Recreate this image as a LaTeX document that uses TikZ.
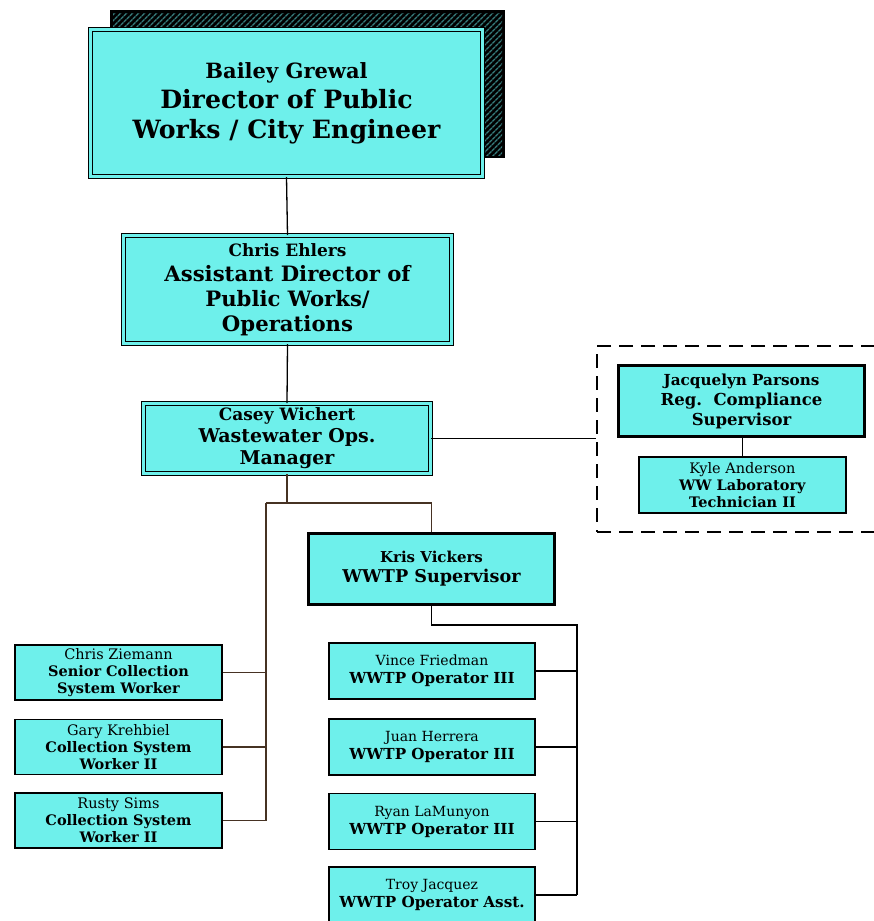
\documentclass[tikz,border=0pt]{standalone}
\usepackage{fontspec}
\setmainfont{DejaVu Serif}
\usetikzlibrary{patterns.meta}
\definecolor{boxcyan}{RGB}{110,240,235}
\definecolor{shadeteal}{RGB}{55,125,125}
\definecolor{linkbrown}{RGB}{70,50,35}
\newcommand{\fs}[2]{\fontsize{#1}{#2}\selectfont}
\begin{document}
\begin{tikzpicture}[x=1pt, y=-1pt,
  box/.style={draw, fill=boxcyan, line width=1.3pt, align=center, inner sep=0pt},
  dbox/.style={box, double=boxcyan, double distance=2.4pt, line width=1pt},
  tbox/.style={box, line width=3pt},
  link/.style={line width=1.3pt},
  blink/.style={link, draw=linkbrown}]
 \useasboundingbox (0,0) rectangle (873,921);
 \fill[black] (110,10) rectangle (505,158);
 \fill[pattern={Lines[angle=45, distance=4pt, line width=1.6pt]}, pattern color=shadeteal] (113,13) rectangle (502,155);
 \node[dbox, minimum width=392pt, minimum height=147pt, font=\fs{25.2}{30}\bfseries] (dir) at (286.5,103)
  {{\fs{21}{28}\bfseries Bailey Grewal}\\ Director of Public\\ Works / City Engineer};
 \node[dbox, minimum width=328pt, minimum height=108pt, font=\fs{21.2}{25}\bfseries] (asst) at (287.5,289.5)
  {{\fs{17}{22}\bfseries Chris Ehlers}\\ Assistant Director of\\ Public Works/\\ Operations};
 \node[dbox, minimum width=287pt, minimum height=70pt, font=\fs{19}{22}\bfseries] (mgr) at (287,438.5)
  {{\fs{17}{22}\bfseries Casey Wichert}\\ Wastewater Ops.\\ Manager};
 \node[draw, dash pattern=on 14pt off 8pt, line width=2.5pt, minimum width=288pt, minimum height=186pt] (grp) at (741,439) {};
 \node[tbox, minimum width=246pt, minimum height=71pt, font=\fs{16.5}{20}\bfseries] (reg) at (741.5,401)
  {{\fs{15.2}{19}\bfseries Jacquelyn Parsons}\\ Reg.\ \ Compliance\\ Supervisor};
 \node[box, minimum width=207pt, minimum height=56pt, font=\fs{14.5}{17}] (lab) at (742.5,485)
  {Kyle Anderson\\ \textbf{WW Laboratory}\\ \textbf{Technician II}};
 \node[tbox, minimum width=246pt, minimum height=71pt, font=\fs{17.6}{20}\bfseries] (sup) at (431.5,569)
  {{\fs{15}{19}\bfseries Kris Vickers}\\ WWTP Supervisor};
 % collection crew
 \node[box, minimum width=207pt, minimum height=55pt, font=\fs{14.5}{17}] (cs1) at (118.5,672.5)
  {Chris Ziemann\\ \textbf{Senior Collection}\\ \textbf{System Worker}};
 \node[box, minimum width=207pt, minimum height=55pt, font=\fs{14.5}{17}] (cs2) at (118.5,747)
  {Gary Krehbiel\\ \textbf{Collection System}\\ \textbf{Worker II}};
 \node[box, minimum width=207pt, minimum height=55pt, font=\fs{14.5}{17}] (cs3) at (118.5,820.5)
  {Rusty Sims\\ \textbf{Collection System}\\ \textbf{Worker II}};
 % plant operators
 \node[box, minimum width=206pt, minimum height=56pt, font=\fs{14}{18}] (op1) at (432,671)
  {Vince Friedman\\ \textbf{\fs{15.2}{18}WWTP Operator III}};
 \node[box, minimum width=206pt, minimum height=56pt, font=\fs{14}{18}] (op2) at (432,747)
  {Juan Herrera\\ \textbf{\fs{15.2}{18}WWTP Operator III}};
 \node[box, minimum width=206pt, minimum height=56pt, font=\fs{14}{18}] (op3) at (432,821.5)
  {Ryan LaMunyon\\ \textbf{\fs{15.2}{18}WWTP Operator III}};
 \node[box, minimum width=206pt, minimum height=56pt, font=\fs{14}{18}] (op4) at (432,895)
  {Troy Jacquez\\ \textbf{\fs{15.2}{18}WWTP Operator Asst.}};
 \draw[link] (dir.south) -- (asst.north);
 \draw[link] (asst.south) -- (mgr.north);
 \draw[link] (mgr.east) -- (mgr.east -| grp.west);
 \draw[link] (reg.south -| lab.north) -- (lab.north);
 \coordinate (cl) at (266,503);
 \coordinate (cr) at (sup.north |- cl);
 \draw[blink] (mgr.south) -- (mgr.south |- cl);
 \draw[blink] (cr) -- (sup.north);
 \draw[blink] (cl) -- (cr);
 \draw[blink] (cl) -- (cl |- cs3.east);
 \foreach \n in {cs1,cs2,cs3} \draw[blink] (\n.east) -- (\n.east -| cl);
 \coordinate (op) at (577,625);
 \draw[link] (sup.south) |- (op) -- (op |- op4.east);
 \foreach \n in {op1,op2,op3,op4} \draw[link] (\n.east) -- (\n.east -| op);
\end{tikzpicture}
\end{document}
